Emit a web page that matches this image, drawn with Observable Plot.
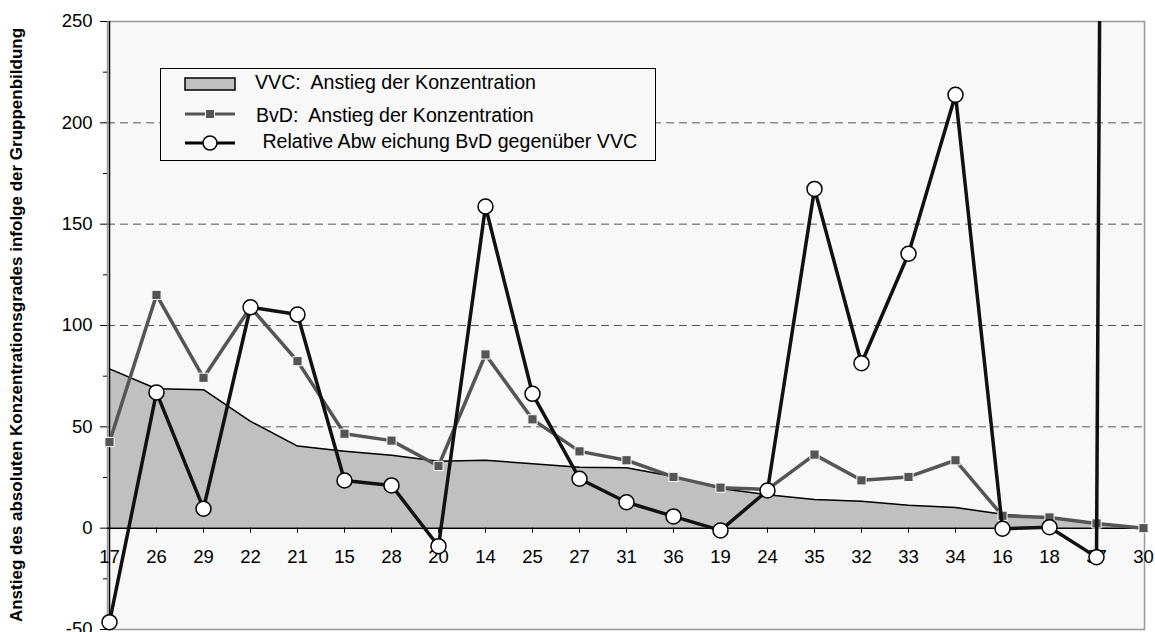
<!DOCTYPE html>
<html>
<head>
<meta charset="utf-8">
<script src="https://cdn.jsdelivr.net/npm/d3@7"></script>
<script src="https://cdn.jsdelivr.net/npm/@observablehq/plot@0.6"></script>
<style>
  html, body { margin: 0; padding: 0; background: #ffffff; }
  #wrap { position: relative; width: 1155px; height: 632px; font-family: "Liberation Sans", Arial, sans-serif; }
  #ytitle { position: absolute; left: 17px; top: 325px; transform: translate(-50%, -50%) rotate(-90deg); white-space: nowrap; font-weight: bold; font-size: 17px; color: #000; }
  #legend { position: absolute; left: 160px; top: 68px; width: 496px; height: 93px; border: 1px solid #000; background: #f8f8f8; box-sizing: border-box; }
  .ltext { position: absolute; white-space: pre; font-size: 19.6px; line-height: 1; }
</style>
</head>
<body>
<div id="wrap">
  <div id="chart"></div>
  <div id="ytitle">Anstieg des absoluten Konzentrationsgrades infolge der Gruppenbildung</div>
  <div id="legend">
    <svg width="494" height="91" style="position:absolute;left:0;top:0">
      <rect x="24" y="9" width="50" height="12" fill="#c0c0c0" stroke="#000" stroke-width="1.5"></rect>
      <line x1="24" x2="74" y1="45" y2="45" stroke="#555" stroke-width="3"></line>
      <rect x="44.5" y="40.5" width="9" height="9" fill="#555" stroke="#fff" stroke-width="1"></rect>
      <line x1="24" x2="74" y1="74" y2="74" stroke="#000" stroke-width="3"></line>
      <circle cx="49" cy="74" r="7" fill="#fff" stroke="#000" stroke-width="1.5"></circle>
    </svg>
    <div class="ltext" style="left:94px;top:4px">VVC:  Anstieg der Konzentration</div>
    <div class="ltext" style="left:95px;top:37px">BvD:  Anstieg der Konzentration</div>
    <div class="ltext" style="left:96px;top:63px"> Relative Abw eichung BvD gegenüber VVC</div>
  </div>
</div>
<script>
const categories = ["17","26","29","22","21","15","28","20","14","25","27","31","36","19","24","35","32","33","34","16","18","37","30"];
const vvcValues = [78.6, 68.8, 68.3, 52.7, 40.5, 38, 36, 33, 33.5, 31.8, 30.1, 29.8, 25.5, 19.6, 16.5, 14.1, 13.3, 11.3, 10.2, 6.9, 5, 2.6, 0];
const bvdValues = [42.5, 115.1, 74.2, 109, 82.4, 46.6, 43.2, 30.7, 85.7, 53.7, 37.9, 33.5, 25.3, 20, 19.1, 36.3, 23.6, 25.3, 33.5, 6.1, 5.3, 2.3, 0];
const relValues = [-46.4, 67, 9.6, 109, 105.4, 23.5, 21.1, -8.9, 158.7, 66.3, 24.4, 12.8, 5.8, -1.1, 18.6, 167.4, 81.4, 135.4, 213.8, -0.3, 0.5, -14.3, 4000];
const yMajorTicks = [-50, 0, 50, 100, 150, 200, 250];
const yMinorTicks = [-25, 25, 75, 125, 175, 225];
const gridValues = [50, 100, 150, 200];

const rows = categories.map((c, i) => ({cat: c, vvc: vvcValues[i], bvd: bvdValues[i], rel: relValues[i]}));

const chart = Plot.plot({
  width: 1155,
  height: 632,
  marginLeft: 107,
  marginRight: 11,
  marginTop: 21,
  marginBottom: 3,
  style: {fontFamily: "Liberation Sans, Arial, sans-serif", fontSize: "18.5px", color: "#000", background: "transparent"},
  x: {type: "point", domain: categories, padding: 0, axis: null},
  y: {domain: [-50, 250], axis: null},
  marks: [
    Plot.frame({fill: "#f8f8f8", stroke: null}),
    Plot.ruleY(gridValues, {stroke: "#555", strokeWidth: 1, strokeDasharray: "8,5"}),
    Plot.areaY(rows, {x: "cat", y: "vvc", fill: "#c0c0c0"}),
    Plot.lineY(rows, {x: "cat", y: "vvc", stroke: "#000", strokeWidth: 1.5}),
    Plot.frame({stroke: "#999", strokeWidth: 1.5}),
    Plot.ruleY([0], {stroke: "#000", strokeWidth: 1.5}),
    Plot.ruleX([categories[0]], {stroke: "#000", strokeWidth: 1.5}),
    Plot.ruleX(categories, {x: d => d, y1: 0, y2: -2.5, stroke: "#000", strokeWidth: 1}),
    Plot.axisY({ticks: yMajorTicks, tickSize: 7, tickPadding: 8, tickFormat: d => String(d), fontSize: 18.5, label: null, stroke: "#000"}),
    Plot.axisY({ticks: yMinorTicks, tickSize: 4, tickFormat: () => "", label: null, stroke: "#000"}),
    Plot.text(categories, {x: d => d, y: 0, dy: 29, text: d => d, fontSize: 18.5, fill: "#000"}),
    Plot.lineY(rows, {x: "cat", y: "bvd", stroke: "#555", strokeWidth: 3.5}),
    Plot.dot(rows, {x: "cat", y: "bvd", symbol: "square", r: 5.2, fill: "#555", stroke: "#fff", strokeWidth: 1}),
    Plot.lineY(rows, {x: "cat", y: "rel", stroke: "#111", strokeWidth: 3.5, clip: true}),
    Plot.dot(rows.filter(d => d.rel <= 250), {x: "cat", y: "rel", r: 7.5, fill: "#fff", stroke: "#000", strokeWidth: 1.5})
  ]
});
document.getElementById("chart").appendChild(chart);
</script>
</body>
</html>
